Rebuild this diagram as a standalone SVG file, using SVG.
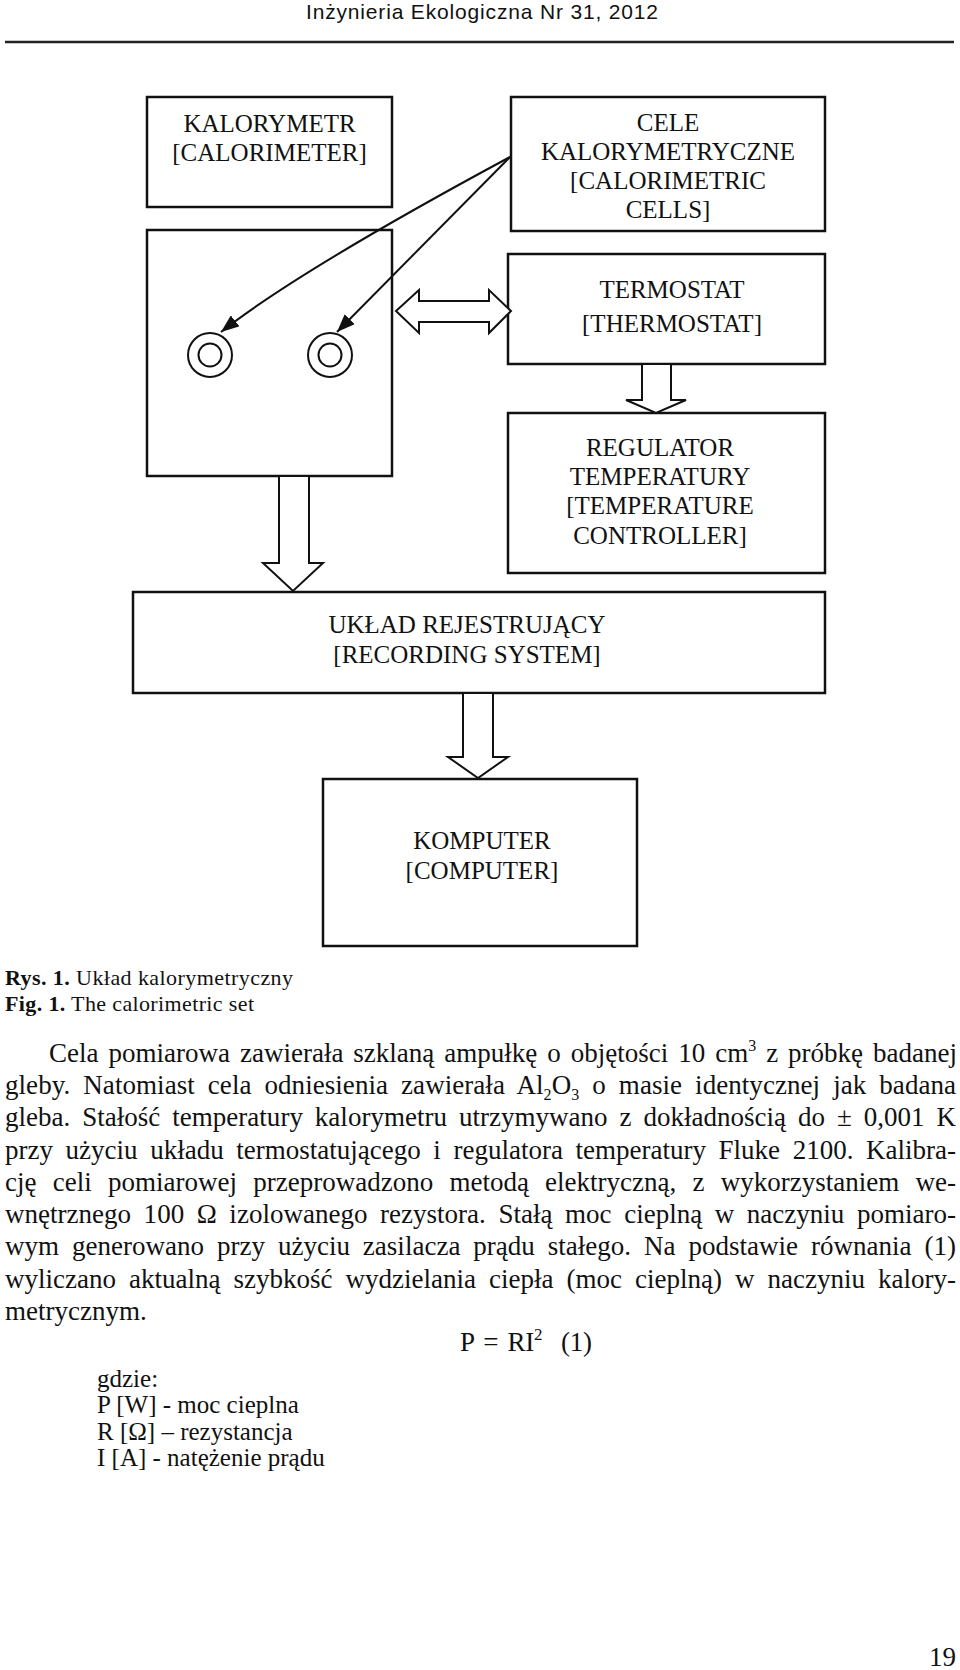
<svg xmlns="http://www.w3.org/2000/svg" width="960" height="1670" viewBox="0 0 960 1670">
<defs>
<style>
.box{fill:#fff;stroke:#111;stroke-width:2.5}
.lbl{font-family:"Liberation Serif","Times New Roman",serif;font-size:25px;fill:#111;text-anchor:middle}
.body{font-family:"Liberation Serif","Times New Roman",serif;font-size:27px;fill:#111}
.list{font-family:"Liberation Serif","Times New Roman",serif;font-size:25px;fill:#111}
.cap{font-family:"Liberation Serif","Times New Roman",serif;font-size:22px;fill:#111}
.hol{fill:#fff;stroke:#111;stroke-width:2;stroke-linejoin:miter}
.ln{fill:none;stroke:#111;stroke-width:2}
.ring{fill:#fff;stroke:#111;stroke-width:2}
</style>
<marker id="ah" viewBox="0 0 18 14" refX="18" refY="7" markerWidth="18" markerHeight="14" markerUnits="userSpaceOnUse" orient="auto">
<path d="M0,0 L18,7 L0,14 z" fill="#111"/>
</marker>
</defs>
<rect width="960" height="1670" fill="#fff"/>
<text x="482" y="19" font-family="'Liberation Sans',Arial,sans-serif" font-size="21" fill="#111" text-anchor="middle" textLength="352">Inżynieria Ekologiczna Nr 31, 2012</text>
<line x1="5" y1="42" x2="954" y2="42" stroke="#222" stroke-width="2.6"/>

<g id="kalorymetr">
<rect class="box" x="147" y="97" width="245" height="110"/>
<text class="lbl" x="269.5" y="132">KALORYMETR</text>
<text class="lbl" x="269.5" y="161">[CALORIMETER]</text>
</g>
<g id="calorimeter-body">
<rect class="box" x="147" y="230" width="245" height="246"/>
<circle class="ring" cx="210" cy="355" r="22"/>
<circle class="ring" cx="210" cy="355" r="11.5"/>
<circle class="ring" cx="330" cy="355" r="22"/>
<circle class="ring" cx="330" cy="355" r="11.5"/>
</g>
<g id="cele">
<rect class="box" x="511" y="97" width="314" height="134"/>
<text class="lbl" x="668" y="131">CELE</text>
<text class="lbl" x="668" y="160">KALORYMETRYCZNE</text>
<text class="lbl" x="668" y="189">[CALORIMETRIC</text>
<text class="lbl" x="668" y="218">CELLS]</text>
</g>
<g id="termostat">
<rect class="box" x="508" y="254" width="317" height="110"/>
<text class="lbl" x="672" y="298">TERMOSTAT</text>
<text class="lbl" x="672" y="332">[THERMOSTAT]</text>
</g>
<g id="regulator">
<rect class="box" x="508" y="413" width="317" height="160"/>
<text class="lbl" x="660" y="456">REGULATOR</text>
<text class="lbl" x="660" y="485">TEMPERATURY</text>
<text class="lbl" x="660" y="514">[TEMPERATURE</text>
<text class="lbl" x="660" y="544">CONTROLLER]</text>
</g>
<g id="uklad">
<rect class="box" x="133" y="592" width="692" height="101"/>
<text class="lbl" x="467" y="633">UKŁAD REJESTRUJĄCY</text>
<text class="lbl" x="467" y="663">[RECORDING SYSTEM]</text>
</g>
<g id="komputer">
<rect class="box" x="323" y="779" width="314" height="167"/>
<text class="lbl" x="482" y="849">KOMPUTER</text>
<text class="lbl" x="482" y="879">[COMPUTER]</text>
</g>

<g id="connectors">
<path class="ln" d="M510,157 Q300,270 221,332" marker-end="url(#ah)"/>
<path class="ln" d="M510,157 L337,332" marker-end="url(#ah)"/>
<polygon class="hol" points="396,311 419,290 419,301 489,301 489,290 511,311 489,333 489,322 419,322 419,333"/>
<polygon class="hol" points="279,476 309,476 309,563 323,563 293,591 263,563 279,563"/>
<polygon class="hol" points="642,364 671,364 671,400 686,400 656,413 626,400 642,400"/>
<polygon class="hol" points="463,693 493,693 493,757 508,757 478,778 448,757 463,757"/>
</g>

<text class="cap" x="5" y="985" textLength="288"><tspan font-weight="bold">Rys. 1.</tspan> Układ kalorymetryczny</text>
<text class="cap" x="5" y="1011" textLength="249"><tspan font-weight="bold">Fig. 1.</tspan> The calorimetric set</text>

<text class="body" x="49" y="1062" word-spacing="3.2" textLength="908">Cela pomiarowa zawierała szklaną ampułkę o objętości 10 cm<tspan dy="-11" font-size="16">3</tspan><tspan dy="11"> z próbkę badanej</tspan></text>
<text class="body" x="5" y="1094" word-spacing="6.2" textLength="951">gleby. Natomiast cela odniesienia zawierała Al<tspan dy="6" font-size="16">2</tspan><tspan dy="-6">O</tspan><tspan dy="6" font-size="16">3</tspan><tspan dy="-6"> o masie identycznej jak badana</tspan></text>
<text class="body" x="5" y="1126" word-spacing="5.2" textLength="951">gleba. Stałość temperatury kalorymetru utrzymywano z dokładnością do ± 0,001 K</text>
<text class="body" x="5" y="1159" word-spacing="5.9" textLength="951">przy użyciu układu termostatującego i regulatora temperatury Fluke 2100. Kalibra-</text>
<text class="body" x="5" y="1191" word-spacing="9.5" textLength="951">cję celi pomiarowej przeprowadzono metodą elektryczną, z wykorzystaniem we-</text>
<text class="body" x="5" y="1223" word-spacing="5.8" textLength="951">wnętrznego 100 Ω izolowanego rezystora. Stałą moc cieplną w naczyniu pomiaro-</text>
<text class="body" x="5" y="1255" word-spacing="6.2" textLength="951">wym generowano przy użyciu zasilacza prądu stałego. Na podstawie równania (1)</text>
<text class="body" x="5" y="1288" word-spacing="6.3" textLength="951">wyliczano aktualną szybkość wydzielania ciepła (moc cieplną) w naczyniu kalory-</text>
<text class="body" x="5" y="1320">metrycznym.</text>
<text class="body" x="460" y="1351" font-size="28" word-spacing="3" textLength="132">P = RI<tspan dy="-11" font-size="17">2</tspan><tspan dy="11" xml:space="preserve">  (1)</tspan></text>

<text class="list" x="97" y="1387">gdzie:</text>
<text class="list" x="97" y="1413">P [W] - moc cieplna</text>
<text class="list" x="97" y="1440">R [Ω] – rezystancja</text>
<text class="list" x="97" y="1466">I [A] - natężenie prądu</text>

<text class="body" x="956" y="1666" text-anchor="end" font-size="28">19</text>
</svg>
